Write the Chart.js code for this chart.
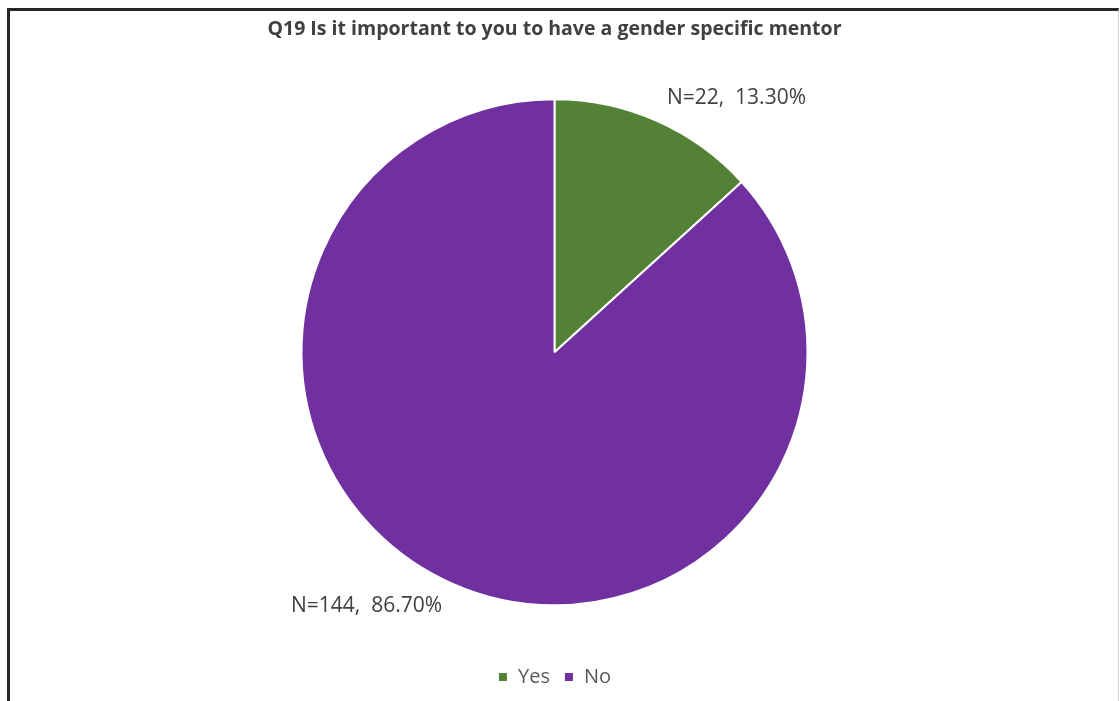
<!DOCTYPE html>
<html>
<head>
<meta charset="utf-8">
<script src="https://cdn.jsdelivr.net/npm/chart.js@4/dist/chart.umd.min.js"></script>
<style>
  body { margin: 0; background: #fff; }
  #frame {
    position: absolute; left: 7px; top: 8px; width: 1108px; height: 700px;
    border-left: 3px solid #262626; border-top: 3px solid #262626; border-right: 1px solid #d0d0d0;
  }
  #wrap { position: absolute; left: 0; top: 0; width: 1120px; height: 701px; }
</style>
</head>
<body>
<div id="frame"></div>
<div id="wrap"><canvas id="myChart" width="1120" height="701"></canvas></div>
<script>
var titleText = 'Q19 Is it important to you to have a gender specific mentor';
var categories = ['Yes', 'No'];
var counts = [22, 144];
var percents = [13.30, 86.70];
var sliceColors = ['#538135', '#7030a0'];

// outside labels, placed along the middle of each slice
var sliceLabels = {
    id: 'sliceLabels',
    afterDatasetsDraw: function (chart) {
        var ctx = chart.ctx;
        var arcs = chart.getDatasetMeta(0).data;
        ctx.save();
        ctx.font = '21px "Open Sans"';
        ctx.fillStyle = '#404040';
        ctx.textBaseline = 'middle';
        for (var i = 0; i < arcs.length; i++) {
            var a = arcs[i];
            var mid = (a.startAngle + a.endAngle) / 2;
            var r = a.outerRadius + 25;
            var x = a.x + Math.cos(mid) * r;
            var y = a.y + Math.sin(mid) * r;
            ctx.textAlign = x >= a.x ? 'left' : 'right';
            ctx.fillText('N=' + counts[i] + ',  ' + percents[i].toFixed(2) + '%', x, y);
        }
        ctx.restore();
    }
};

var data = {
    labels: categories,
    datasets: [{
        data: counts,
        backgroundColor: sliceColors,
        borderColor: '#ffffff',
        borderWidth: 2,
        radius: 253
    }]
};

var config = {
    type: 'pie',
    data: data,
    options: {
        responsive: false,
        animation: false,
        layout: { padding: { left: 0, right: 11, top: 10, bottom: 4 } },
        plugins: {
            title: {
                display: true,
                text: titleText,
                color: '#404040',
                font: { family: 'Open Sans', size: 19.5, weight: 'bold' },
                padding: { top: 8, bottom: 10 }
            },
            legend: {
                position: 'bottom',
                labels: {
                    color: '#595959',
                    font: { family: 'Open Sans', size: 20 },
                    usePointStyle: true,
                    pointStyle: 'rect',
                    boxWidth: 10,
                    boxHeight: 10,
                    padding: 14
                }
            },
            tooltip: { enabled: false }
        }
    },
    plugins: [sliceLabels]
};

var myChart = new Chart(document.getElementById('myChart'), config);
</script>
</body>
</html>
